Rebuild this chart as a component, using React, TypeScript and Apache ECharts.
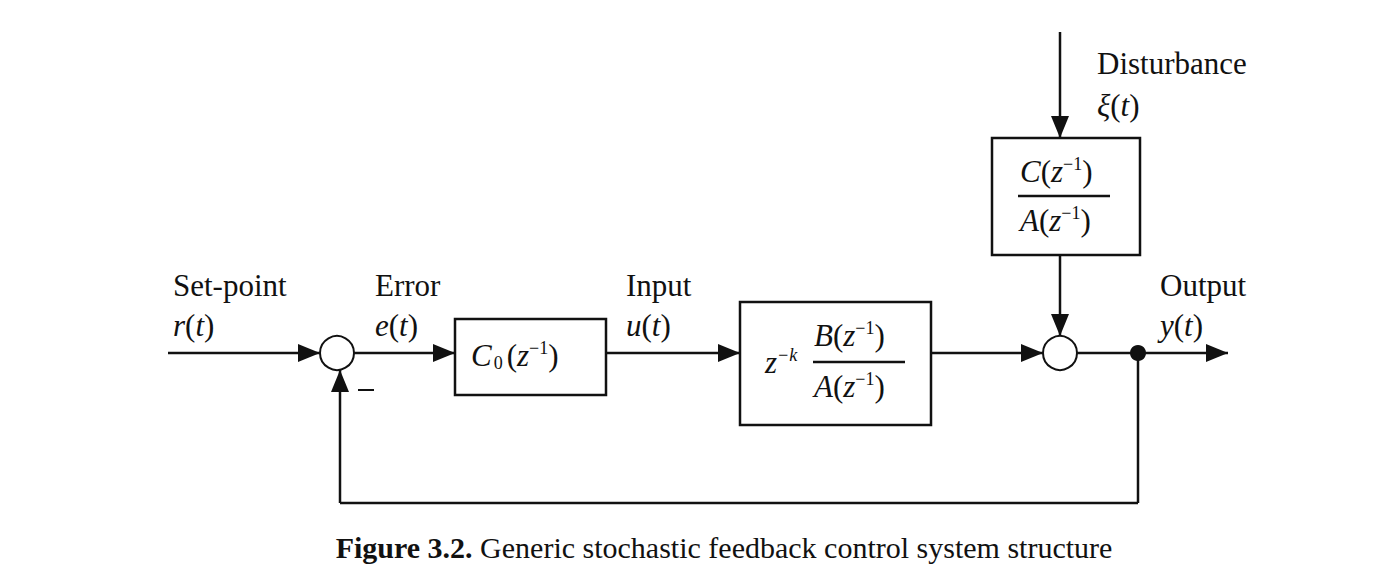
import { useEffect, useRef } from 'react';
import * as echarts from 'echarts';

const signalNames = ['Set-point', 'Error', 'Input', 'Output'];
const signalSymbols = ['r', 'e', 'u', 'y'];
const disturbanceName = 'Disturbance';
const disturbanceSymbol = 'ξ';
const caption = ['Figure 3.2.', ' Generic stochastic feedback control system structure'];

const FONT = '"Liberation Serif", "DejaVu Serif", serif';
const BLACK = '#111';

const rich = {
  n: { fontFamily: FONT, fontSize: 31, fill: BLACK },
  i: { fontFamily: FONT, fontSize: 31, fontStyle: 'italic', fill: BLACK },
  sup: { fontFamily: FONT, fontSize: 18, fill: BLACK, padding: [0, 0, 15, 0] },
  supi: { fontFamily: FONT, fontSize: 18, fontStyle: 'italic', fill: BLACK, padding: [0, 0, 15, 0] },
  sub: { fontFamily: FONT, fontSize: 18, fill: BLACK, padding: [15, 4, 0, 2] },
};

function txt(x: number, y: number, text: string, align = 'left') {
  return { type: 'text', x, y, style: { text, rich, align, verticalAlign: 'middle', font: `31px ${FONT}`, fill: BLACK } };
}
function line(x1: number, y1: number, x2: number, y2: number) {
  return { type: 'line', shape: { x1, y1, x2, y2 }, style: { stroke: BLACK, lineWidth: 2.5 } };
}
function arrow(x: number, y: number, dir: 'r' | 'd' | 'u') {
  const L = 22, W = 9;
  let pts: number[][];
  if (dir === 'r') pts = [[x, y], [x - L, y - W], [x - L, y + W]];
  else if (dir === 'd') pts = [[x, y], [x - W, y - L], [x + W, y - L]];
  else pts = [[x, y], [x - W, y + L], [x + W, y + L]];
  return { type: 'polygon', shape: { points: pts }, style: { fill: BLACK } };
}
function rect(x: number, y: number, w: number, h: number) {
  return { type: 'rect', shape: { x, y, width: w, height: h }, style: { fill: 'none', stroke: BLACK, lineWidth: 2.5 } };
}
function circle(cx: number, cy: number, r: number, fill = '#fff') {
  return { type: 'circle', shape: { cx, cy, r }, style: { fill, stroke: BLACK, lineWidth: 2 } };
}

export default function App() {
  const ref = useRef<HTMLDivElement>(null);
  useEffect(() => {
    if (!ref.current) return;
    const chart = echarts.init(ref.current, undefined, { renderer: 'svg' });
    const Y = 353;
    const labelX = [173, 375, 626, 1160];
    const g: any[] = [
      line(168, Y, 320, Y), arrow(320, Y, 'r'),
      circle(337, Y, 17),
      line(354, Y, 455, Y), arrow(455, Y, 'r'),
      rect(455, 319, 151, 76),
      line(606, Y, 740, Y), arrow(740, Y, 'r'),
      rect(740, 302, 191, 123),
      line(931, Y, 1043, Y), arrow(1043, Y, 'r'),
      circle(1060, Y, 17),
      line(1077, Y, 1228, Y), arrow(1228, Y, 'r'),
      circle(1138, Y, 7, BLACK),
      line(1138, Y, 1138, 503), line(1138, 503, 340, 503), line(340, 503, 340, 370), arrow(340, 370, 'u'),
      { type: 'line', shape: { x1: 358, y1: 390, x2: 374, y2: 390 }, style: { stroke: BLACK, lineWidth: 2 } },
      line(1060, 32, 1060, 138), arrow(1060, 138, 'd'),
      rect(992, 138, 148, 117),
      line(1060, 255, 1060, 336), arrow(1060, 336, 'd'),
      line(1018, 196, 1110, 196),
      line(813, 362, 905, 362),
      txt(471, 355, '{i|C}{sub|0}{n|(}{i|z}{sup|−1}{n|)}'),
      txt(765, 362, '{i|z}{supi|−k}'),
      txt(814, 335, '{i|B}{n|(}{i|z}{sup|−1}{n|)}'),
      txt(814, 386, '{i|A}{n|(}{i|z}{sup|−1}{n|)}'),
      txt(1020, 171, '{i|C}{n|(}{i|z}{sup|−1}{n|)}'),
      txt(1020, 220, '{i|A}{n|(}{i|z}{sup|−1}{n|)}'),
      txt(1097, 63, `{n|${disturbanceName}}`),
      txt(1097, 105, `{i|${disturbanceSymbol}}{n|(}{i|t}{n|)}`),
      {
        type: 'text', x: 724, y: 547,
        style: {
          text: `{b|${caption[0]}}{c|${caption[1]}}`, align: 'center', verticalAlign: 'middle',
          rich: {
            b: { fontFamily: FONT, fontSize: 30, fontWeight: 'bold', fill: BLACK },
            c: { fontFamily: FONT, fontSize: 30, fill: BLACK },
          },
        },
      },
    ];
    signalNames.forEach((n, k) => {
      g.push(txt(labelX[k], 285, `{n|${n}}`));
      g.push(txt(labelX[k], 325, `{i|${signalSymbols[k]}}{n|(}{i|t}{n|)}`));
    });
    chart.setOption({ animation: false, graphic: g });
    return () => chart.dispose();
  }, []);
  return <div ref={ref} style={{ position: 'fixed', left: 0, top: 0, width: 1391, height: 585, background: '#fff' }} />;
}
